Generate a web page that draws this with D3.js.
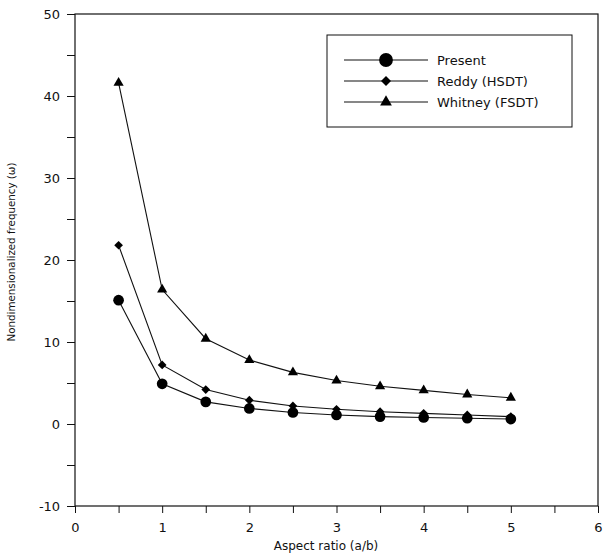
<!DOCTYPE html>
<html>
<head>
<meta charset="utf-8">
<title>Nondimensionalized frequency vs aspect ratio</title>
<style>
  body { margin: 0; background: #fff; }
  text { font-family: "DejaVu Sans", Verdana, sans-serif; fill: #111; }
  .axis path, .axis line { stroke: #111; }
</style>
</head>
<body>
<div id="chart"></div>
<script src="https://d3js.org/d3.v7.min.js"></script>
<script>
// data
const aspect = [0.5, 1, 1.5, 2, 2.5, 3, 3.5, 4, 4.5, 5];
const present = [15.1, 4.9, 2.7, 1.9, 1.4, 1.1, 0.9, 0.8, 0.7, 0.6];
const reddy = [21.8, 7.2, 4.2, 2.9, 2.2, 1.8, 1.5, 1.3, 1.1, 0.9];
const whitney = [41.6, 16.4, 10.4, 7.8, 6.3, 5.3, 4.6, 4.1, 3.6, 3.2];
const seriesNames = ["Present", "Reddy (HSDT)", "Whitney (FSDT)"];
const xTickLabels = [0, 1, 2, 3, 4, 5, 6];
const yTickLabels = [-10, 0, 10, 20, 30, 40, 50];

const W = 603, H = 557;
const margin = {top: 14, right: 5, bottom: 51, left: 75};

const svg = d3.select("#chart").append("svg")
  .attr("width", W).attr("height", H);

const x = d3.scaleLinear().domain([0, 6]).range([margin.left, W - margin.right]);
const y = d3.scaleLinear().domain([-10, 50]).range([H - margin.bottom, margin.top]);

// frame
svg.append("rect")
  .attr("x", x(0)).attr("y", y(50))
  .attr("width", x(6) - x(0)).attr("height", y(-10) - y(50))
  .attr("fill", "none").attr("stroke", "#111").attr("stroke-width", 1.2);

// axes
svg.append("g").attr("class", "axis")
  .attr("transform", `translate(0,${y(-10)})`)
  .call(d3.axisBottom(x).tickValues(d3.range(0, 6.01, 0.5)).tickSize(7)
    .tickFormat(d => xTickLabels.includes(d) ? d : ""))
  .call(g => g.select(".domain").remove())
  .call(g => g.selectAll("text").attr("font-size", 13).attr("dy", "1.2em"));

svg.append("g").attr("class", "axis")
  .attr("transform", `translate(${x(0)},0)`)
  .call(d3.axisLeft(y).tickValues(d3.range(-10, 50.01, 5)).tickSize(8)
    .tickFormat(d => yTickLabels.includes(d) ? d : ""))
  .call(g => g.select(".domain").remove())
  .call(g => g.selectAll("text").attr("font-size", 13).attr("dx", "-0.3em"));

// axis titles
svg.append("text")
  .attr("x", 326).attr("y", 550)
  .attr("text-anchor", "middle").attr("font-size", 12)
  .text("Aspect ratio (a/b)");

svg.append("text")
  .attr("transform", `translate(15,252) rotate(-90)`)
  .attr("text-anchor", "middle").attr("font-size", 10.3)
  .text("Nondimensionalized frequency (\u03c9)");

// lines and markers
const line = d3.line().x((d, i) => x(aspect[i])).y(d => y(d));
const symbols = [d3.symbolCircle, d3.symbolSquare, d3.symbolTriangle];
const sizes = [90, 38, 45];
const rotations = [0, 45, 0];
const allSeries = [present, reddy, whitney];

allSeries.forEach((vals, k) => {
  svg.append("path")
    .attr("d", line(vals))
    .attr("fill", "none").attr("stroke", "#111").attr("stroke-width", 1.1);
  svg.selectAll(null).data(vals).enter().append("path")
    .attr("d", d3.symbol().type(symbols[k]).size(sizes[k]))
    .attr("transform", (d, i) => `translate(${x(aspect[i])},${y(d)}) rotate(${rotations[k]})`)
    .attr("fill", "#000");
});

// legend
const legend = svg.append("g");
legend.append("rect")
  .attr("x", 327).attr("y", 35).attr("width", 245).attr("height", 92)
  .attr("fill", "#fff").attr("stroke", "#111").attr("stroke-width", 1);

seriesNames.forEach((name, k) => {
  const ly = 60 + k * 21;
  legend.append("line")
    .attr("x1", 344).attr("x2", 428).attr("y1", ly).attr("y2", ly)
    .attr("stroke", "#111").attr("stroke-width", 1.1);
  legend.append("path")
    .attr("d", d3.symbol().type(symbols[k]).size([150, 50, 60][k]))
    .attr("transform", `translate(386,${ly}) rotate(${rotations[k]})`).attr("fill", "#000");
  legend.append("text")
    .attr("x", 437).attr("y", ly).attr("dy", "0.35em")
    .attr("font-size", 13).text(name);
});
</script>
</body>
</html>
